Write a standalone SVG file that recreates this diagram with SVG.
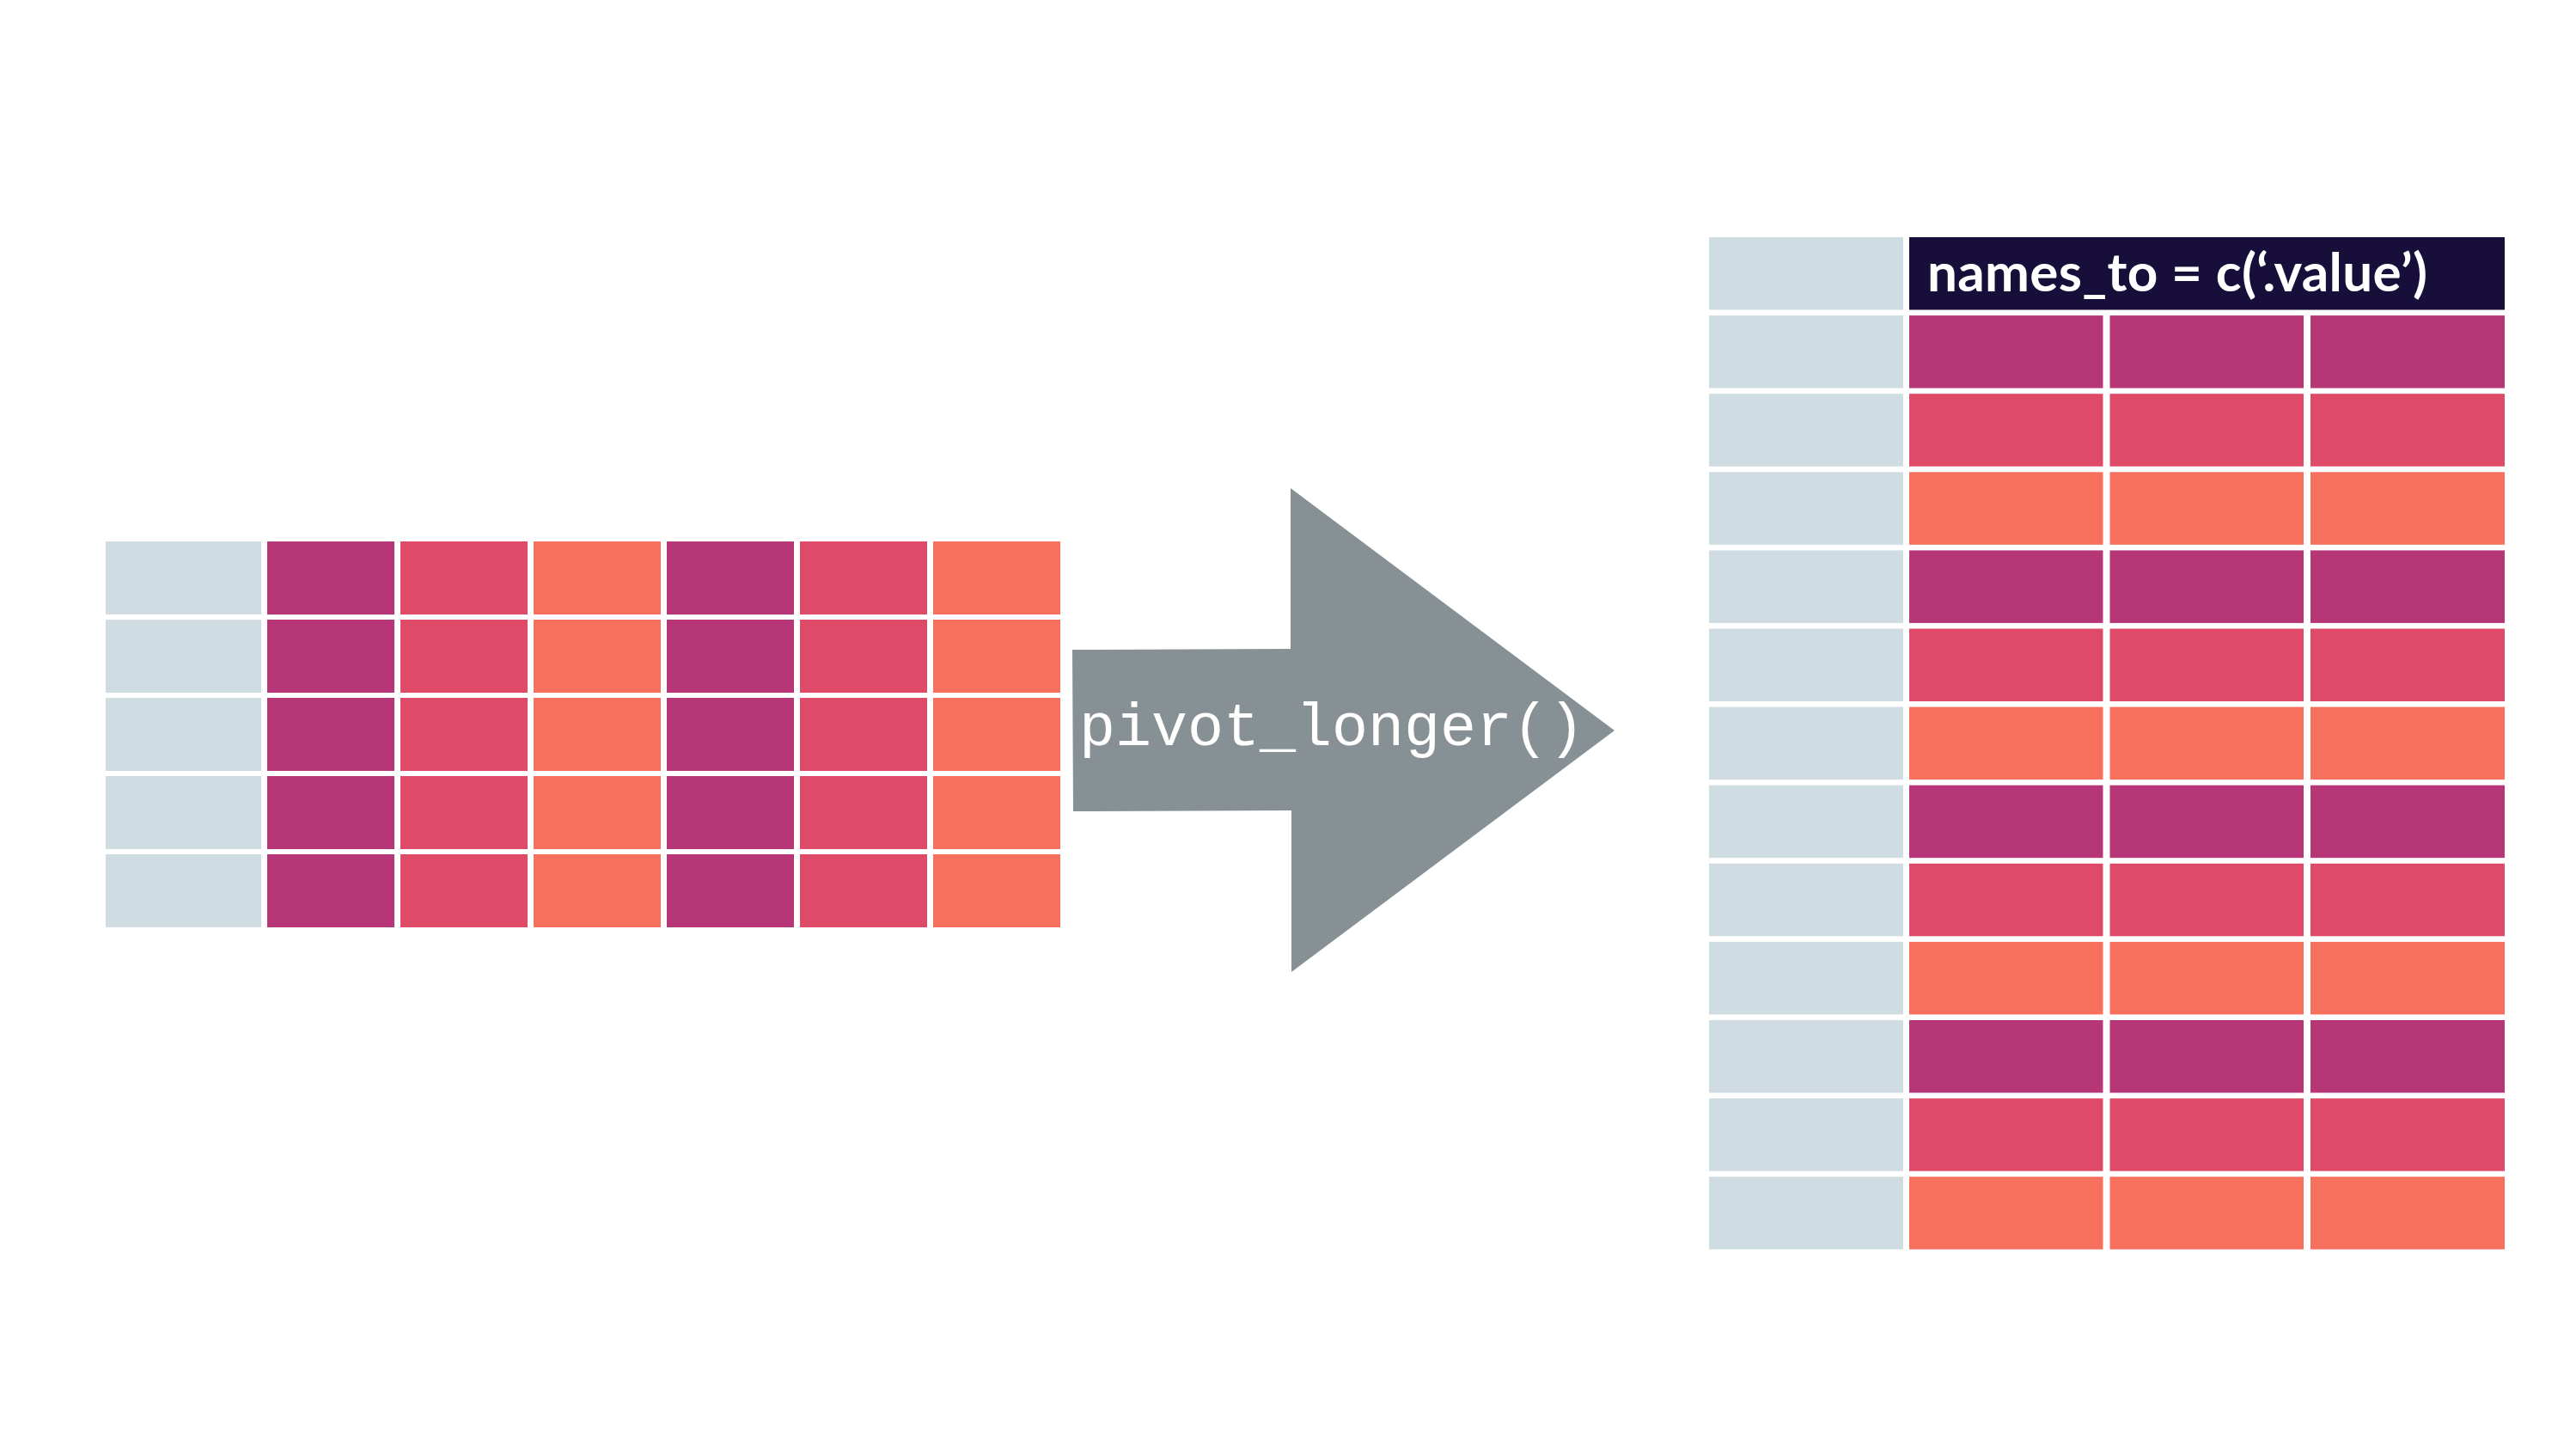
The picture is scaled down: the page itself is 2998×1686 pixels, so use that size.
<svg xmlns="http://www.w3.org/2000/svg" width="2998" height="1686" viewBox="0 0 2998 1686">
<style>
.k{fill:#CFDCE2}
.p{fill:#B63678}
.r{fill:#DE4A67}
.o{fill:#F76F5D}
.h{fill:#170F3A}
.code{font-family:"Liberation Mono","DejaVu Sans Mono",monospace;font-size:70px;fill:#FFFFFF}
.lab{font-family:Lato,"Open Sans",sans-serif;font-weight:700;font-size:62px;fill:#FFFFFF}
</style>
<rect width="2998" height="1686" fill="#FFFFFF"/>
<g id="wide-table">
<rect class="k" x="123" y="630" width="181" height="85"/><rect class="p" x="311" y="630" width="148" height="85"/><rect class="r" x="466" y="630" width="148" height="85"/><rect class="o" x="621" y="630" width="148" height="85"/><rect class="p" x="776" y="630" width="148" height="85"/><rect class="r" x="931" y="630" width="148" height="85"/><rect class="o" x="1086" y="630" width="148" height="85"/>
<rect class="k" x="123" y="721" width="181" height="85"/><rect class="p" x="311" y="721" width="148" height="85"/><rect class="r" x="466" y="721" width="148" height="85"/><rect class="o" x="621" y="721" width="148" height="85"/><rect class="p" x="776" y="721" width="148" height="85"/><rect class="r" x="931" y="721" width="148" height="85"/><rect class="o" x="1086" y="721" width="148" height="85"/>
<rect class="k" x="123" y="812" width="181" height="85"/><rect class="p" x="311" y="812" width="148" height="85"/><rect class="r" x="466" y="812" width="148" height="85"/><rect class="o" x="621" y="812" width="148" height="85"/><rect class="p" x="776" y="812" width="148" height="85"/><rect class="r" x="931" y="812" width="148" height="85"/><rect class="o" x="1086" y="812" width="148" height="85"/>
<rect class="k" x="123" y="903" width="181" height="85"/><rect class="p" x="311" y="903" width="148" height="85"/><rect class="r" x="466" y="903" width="148" height="85"/><rect class="o" x="621" y="903" width="148" height="85"/><rect class="p" x="776" y="903" width="148" height="85"/><rect class="r" x="931" y="903" width="148" height="85"/><rect class="o" x="1086" y="903" width="148" height="85"/>
<rect class="k" x="123" y="994" width="181" height="85"/><rect class="p" x="311" y="994" width="148" height="85"/><rect class="r" x="466" y="994" width="148" height="85"/><rect class="o" x="621" y="994" width="148" height="85"/><rect class="p" x="776" y="994" width="148" height="85"/><rect class="r" x="931" y="994" width="148" height="85"/><rect class="o" x="1086" y="994" width="148" height="85"/>
</g>
<g id="connectors">
<g id="pivot-arrow">
<polygon fill="#879094" points="1248,756 1502,755 1502,568 1879,850 1503,1131 1503,943 1249,944"/>
<text class="code" x="1256" y="867">pivot_longer()</text>
</g>
</g>
<g id="long-table">
<rect class="k" x="1989" y="276" width="226" height="84.5"/><rect class="h" x="2222" y="276" width="693" height="84.5"/>
<text class="lab" x="2243" y="339" textLength="582" lengthAdjust="spacing">names_to = c(‘.value’)</text>
<rect class="k" x="1989" y="367.1" width="226" height="84.5"/><rect class="p" x="2222" y="367.1" width="225.5" height="84.5"/><rect class="p" x="2455.5" y="367.1" width="225.5" height="84.5"/><rect class="p" x="2689" y="367.1" width="226" height="84.5"/>
<rect class="k" x="1989" y="458.2" width="226" height="84.5"/><rect class="r" x="2222" y="458.2" width="225.5" height="84.5"/><rect class="r" x="2455.5" y="458.2" width="225.5" height="84.5"/><rect class="r" x="2689" y="458.2" width="226" height="84.5"/>
<rect class="k" x="1989" y="549.3" width="226" height="84.5"/><rect class="o" x="2222" y="549.3" width="225.5" height="84.5"/><rect class="o" x="2455.5" y="549.3" width="225.5" height="84.5"/><rect class="o" x="2689" y="549.3" width="226" height="84.5"/>
<rect class="k" x="1989" y="640.4" width="226" height="84.5"/><rect class="p" x="2222" y="640.4" width="225.5" height="84.5"/><rect class="p" x="2455.5" y="640.4" width="225.5" height="84.5"/><rect class="p" x="2689" y="640.4" width="226" height="84.5"/>
<rect class="k" x="1989" y="731.5" width="226" height="84.5"/><rect class="r" x="2222" y="731.5" width="225.5" height="84.5"/><rect class="r" x="2455.5" y="731.5" width="225.5" height="84.5"/><rect class="r" x="2689" y="731.5" width="226" height="84.5"/>
<rect class="k" x="1989" y="822.6" width="226" height="84.5"/><rect class="o" x="2222" y="822.6" width="225.5" height="84.5"/><rect class="o" x="2455.5" y="822.6" width="225.5" height="84.5"/><rect class="o" x="2689" y="822.6" width="226" height="84.5"/>
<rect class="k" x="1989" y="913.7" width="226" height="84.5"/><rect class="p" x="2222" y="913.7" width="225.5" height="84.5"/><rect class="p" x="2455.5" y="913.7" width="225.5" height="84.5"/><rect class="p" x="2689" y="913.7" width="226" height="84.5"/>
<rect class="k" x="1989" y="1004.8" width="226" height="84.5"/><rect class="r" x="2222" y="1004.8" width="225.5" height="84.5"/><rect class="r" x="2455.5" y="1004.8" width="225.5" height="84.5"/><rect class="r" x="2689" y="1004.8" width="226" height="84.5"/>
<rect class="k" x="1989" y="1095.9" width="226" height="84.5"/><rect class="o" x="2222" y="1095.9" width="225.5" height="84.5"/><rect class="o" x="2455.5" y="1095.9" width="225.5" height="84.5"/><rect class="o" x="2689" y="1095.9" width="226" height="84.5"/>
<rect class="k" x="1989" y="1187" width="226" height="84.5"/><rect class="p" x="2222" y="1187" width="225.5" height="84.5"/><rect class="p" x="2455.5" y="1187" width="225.5" height="84.5"/><rect class="p" x="2689" y="1187" width="226" height="84.5"/>
<rect class="k" x="1989" y="1278.1" width="226" height="84.5"/><rect class="r" x="2222" y="1278.1" width="225.5" height="84.5"/><rect class="r" x="2455.5" y="1278.1" width="225.5" height="84.5"/><rect class="r" x="2689" y="1278.1" width="226" height="84.5"/>
<rect class="k" x="1989" y="1369.2" width="226" height="84.5"/><rect class="o" x="2222" y="1369.2" width="225.5" height="84.5"/><rect class="o" x="2455.5" y="1369.2" width="225.5" height="84.5"/><rect class="o" x="2689" y="1369.2" width="226" height="84.5"/>
</g>
</svg>
